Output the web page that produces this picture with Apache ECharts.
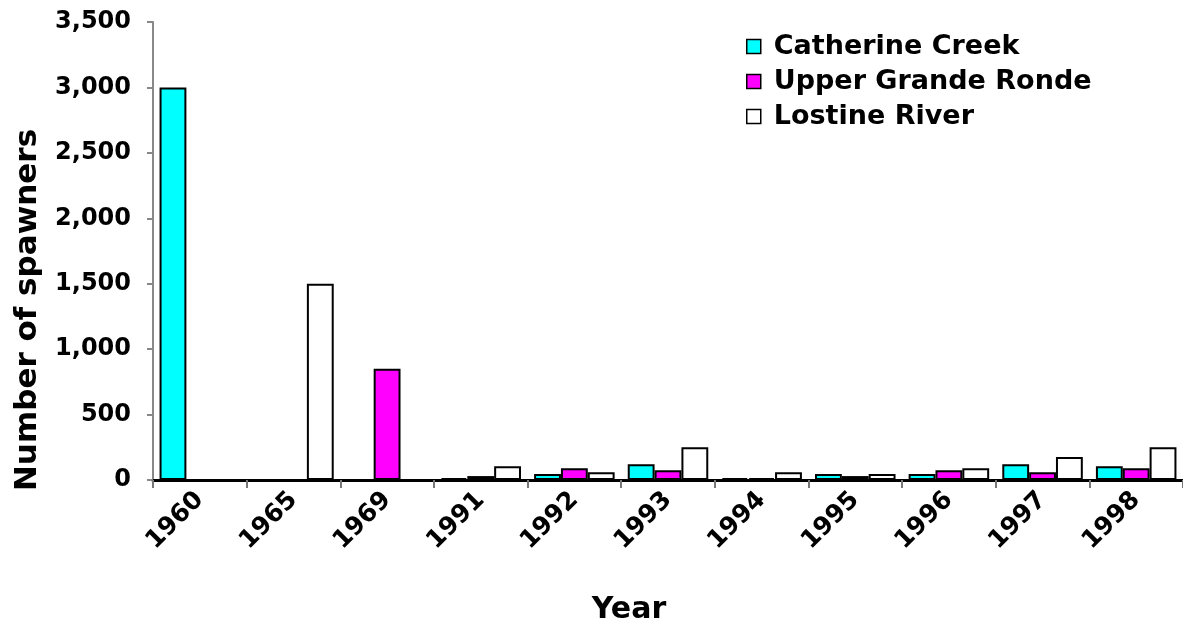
<!DOCTYPE html>
<html><head><meta charset="utf-8">
<script src="https://cdn.jsdelivr.net/npm/echarts@6/dist/echarts.min.js"></script>
<style>html,body{margin:0;padding:0;background:#fff}#c{width:1183px;height:628px}</style>
</head><body><div id="c"></div>
<script>
const years = ['1960','1965','1969','1991','1992','1993','1994','1995','1996','1997','1998'];
const catherineCreek = [3000, 0, 0, 15, 45, 120, 15, 45, 45, 120, 105];
const upperGrandeRonde = [0, 0, 850, 30, 90, 75, 15, 30, 75, 60, 90];
const lostineRiver = [0, 1500, 0, 105, 60, 250, 60, 45, 90, 175, 250];
const seriesNames = ['Catherine Creek', 'Upper Grande Ronde', 'Lostine River'];
const colors = ['#00FFFF', '#FF00FF', '#FFFFFF'];
const FONT = 'DejaVu Sans';
const chart = echarts.init(document.getElementById('c'));
const mk = (name, data, color) => ({
  name, type: 'bar', data, barGap: '0%', barCategoryGap: '14%',
  itemStyle: { color, borderColor: '#000', borderWidth: 2 },
  emphasis: { disabled: true }
});
chart.setOption({
  animation: false,
  backgroundColor: '#fff',
  grid: { left: 153, right: -4, top: 22, bottom: 148 },
  legend: {
    left: 741, top: 28, orient: 'vertical', itemGap: 8,
    itemWidth: 14, itemHeight: 14, icon: 'rect',
    textStyle: { fontFamily: FONT, fontWeight: 'bold', fontSize: 27, color: '#000', padding: [0, 0, 0, 8] },
    data: seriesNames.map((n, i) => ({ name: n, itemStyle: { color: colors[i], borderColor: '#000', borderWidth: 1.5 } }))
  },
  graphic: [
    { type: 'text', x: 28, y: 310, rotation: Math.PI / 2,
      style: { text: 'Number of spawners', font: 'bold 31px "DejaVu Sans"', fill: '#000', align: 'center', verticalAlign: 'middle' } },
    { type: 'text', x: 629, y: 610,
      style: { text: 'Year', font: 'bold 30px "DejaVu Sans"', fill: '#000', align: 'center', verticalAlign: 'middle' } }
  ],
  xAxis: {
    type: 'category', data: years,
    axisLine: { lineStyle: { color: '#000', width: 3 } },
    axisTick: { show: true, length: 8, lineStyle: { color: '#777', width: 2 } },
    axisLabel: { rotate: 45, fontFamily: FONT, fontWeight: 'bold', fontSize: 25, color: '#000', margin: 16 }
  },
  yAxis: {
    type: 'value', min: 0, max: 3500, interval: 500,
    axisLine: { show: true, lineStyle: { color: '#888', width: 2 } },
    axisTick: { show: true, length: 6, lineStyle: { color: '#888', width: 2 } },
    splitLine: { show: false },
    axisLabel: {
      fontFamily: FONT, fontWeight: 'bold', fontSize: 24, color: '#000', margin: 22,
      formatter: v => v.toLocaleString('en-US')
    }
  },
  series: [
    mk(seriesNames[0], catherineCreek, colors[0]),
    mk(seriesNames[1], upperGrandeRonde, colors[1]),
    mk(seriesNames[2], lostineRiver, colors[2])
  ]
});
</script></body></html>
